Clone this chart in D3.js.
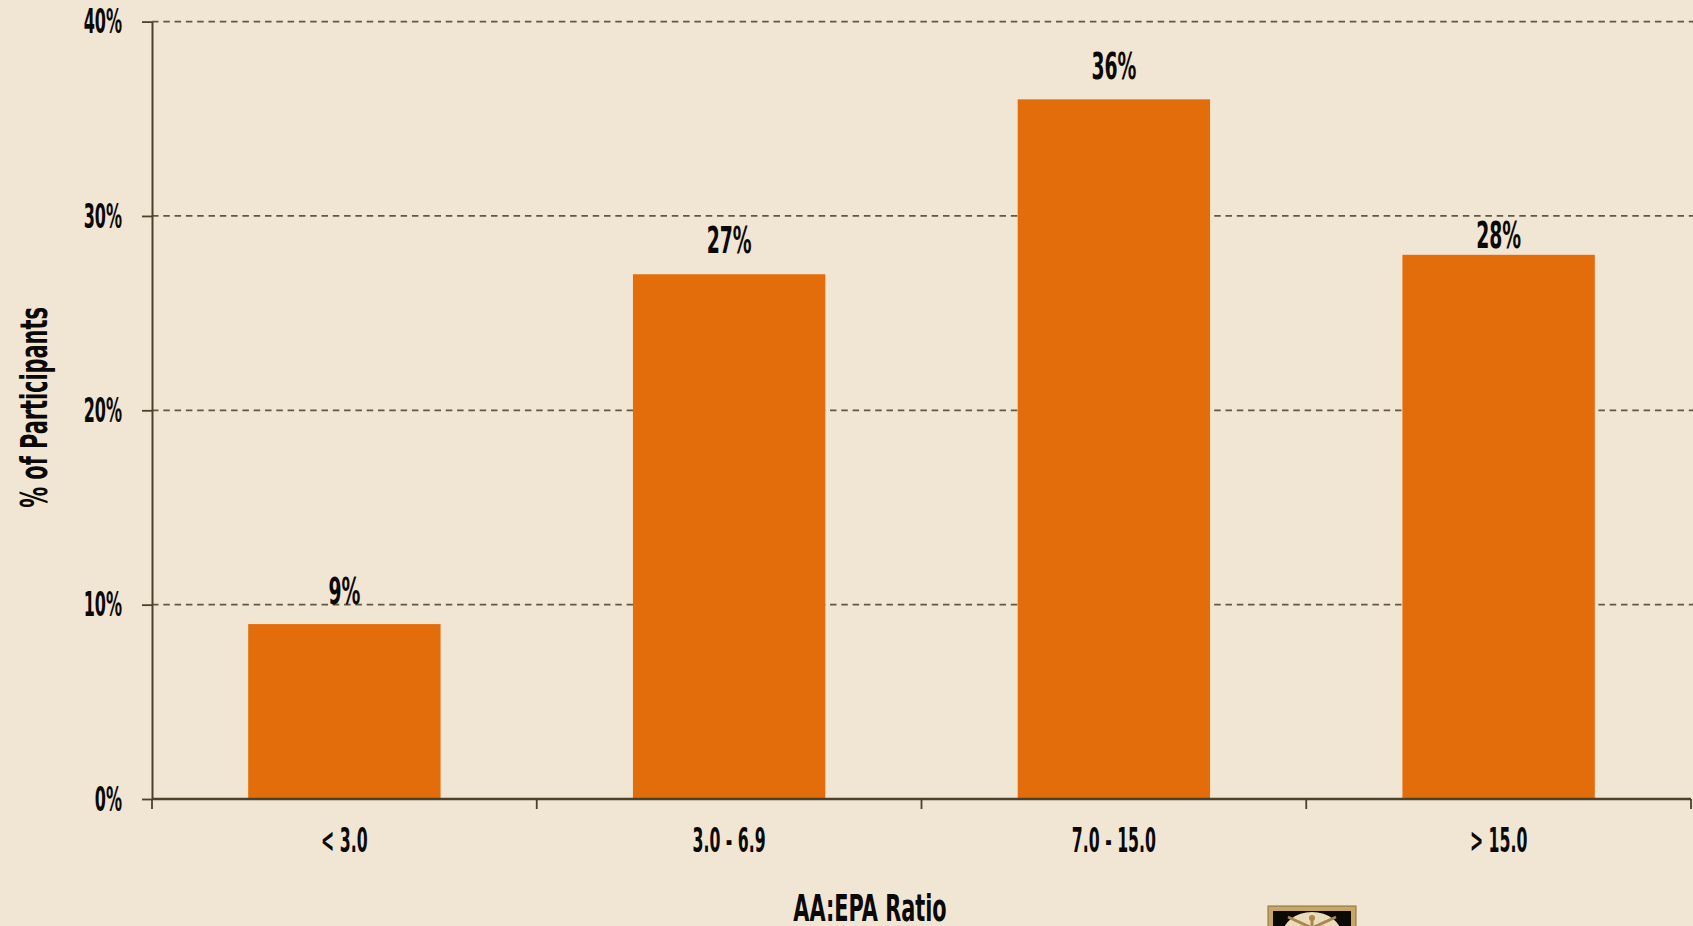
<!DOCTYPE html>
<html>
<head>
<meta charset="utf-8">
<script src="https://cdn.jsdelivr.net/npm/d3@7"></script>
<style>
  html, body { margin: 0; padding: 0; background: #F1E6D4; overflow: hidden; }
  svg { display: block; }
  text { font-family: "Liberation Sans Narrow", "DejaVu Sans Condensed", "Liberation Sans", sans-serif; font-weight: bold; fill: #0b0905; }
</style>
</head>
<body>
<svg id="chart" width="1693" height="926"></svg>
<script>
// ---- data ----
const categories = ["< 3.0", "3.0 - 6.9", "7.0 - 15.0", "> 15.0"];
const values = [9, 27, 36, 28];
const yTicks = [0, 10, 20, 30, 40];
const xTitle = "AA:EPA Ratio";
const yTitle = "% of Participants";

// ---- layout ----
const W = 1693, H = 926;
const plotLeft = 152, plotRight = 1691, plotTop = 21.6, plotBottom = 799;
const labelGap = [20, 21, 20, 7];   // label distance above bar top (styling)
const svg = d3.select("#chart");

svg.append("rect").attr("width", W).attr("height", H).attr("fill", "#F1E6D4");

const x = d3.scaleBand().domain(categories).range([plotLeft, plotRight]).paddingInner(0.5).paddingOuter(0.25);
const y = d3.scaleLinear().domain([0, 40]).range([plotBottom, plotTop]);

const axisColor = "#4b4229";
const gridColor = "#5f5940";

// gridlines
svg.append("g").selectAll("line").data(yTicks.filter(d => d > 0)).join("line")
  .attr("x1", plotLeft).attr("x2", W)
  .attr("y1", d => y(d)).attr("y2", d => y(d))
  .attr("stroke", gridColor).attr("stroke-width", 1.8)
  .attr("stroke-dasharray", "6.5,4.8");

// bars
svg.append("g").selectAll("rect").data(values).join("rect")
  .attr("x", (d, i) => x(categories[i]))
  .attr("width", x.bandwidth())
  .attr("y", d => y(d))
  .attr("height", d => y(0) - y(d))
  .attr("fill", "#E36C0B");

// y axis
const sxTick = 0.54;
const gy = svg.append("g").attr("transform", `translate(${plotLeft},0)`)
  .call(d3.axisLeft(y).tickValues(yTicks).tickSize(10).tickSizeOuter(0).tickFormat(d => d + "%"));
gy.attr("font-family", null).attr("font-size", null);
gy.select(".domain").attr("stroke", axisColor).attr("stroke-width", 2);
gy.selectAll(".tick line").attr("stroke", axisColor).attr("stroke-width", 1.8);
gy.selectAll(".tick text")
  .attr("font-size", 33)
  .attr("x", -30 / sxTick).attr("dy", "0.34em")
  .attr("transform", `scale(${sxTick},1)`)
  .style("fill", "#0b0905");

// x axis line + boundary ticks
const gapHalf = (x.step() - x.bandwidth()) / 2;
const bounds = categories.map(c => x(c) - gapHalf).concat([x(categories[categories.length - 1]) + x.bandwidth() + gapHalf]);
svg.append("line").attr("x1", plotLeft).attr("x2", plotRight).attr("y1", plotBottom).attr("y2", plotBottom)
  .attr("stroke", axisColor).attr("stroke-width", 2.4);
svg.append("g").selectAll("line").data(bounds).join("line")
  .attr("x1", d => d).attr("x2", d => d).attr("y1", plotBottom).attr("y2", plotBottom + 10)
  .attr("stroke", axisColor).attr("stroke-width", 1.8);

// x tick labels
svg.append("g").selectAll("text").data(categories).join("text")
  .attr("transform", d => `translate(${x(d) + x.bandwidth() / 2},${plotBottom + 53}) scale(0.53,1)`)
  .attr("text-anchor", "middle").attr("font-size", 33)
  .text(d => d);

// value labels
svg.append("g").selectAll("text").data(values).join("text")
  .attr("transform", (d, i) => `translate(${x(categories[i]) + x.bandwidth() / 2},${y(d) - labelGap[i]}) scale(0.55,1)`)
  .attr("text-anchor", "middle").attr("font-size", 38)
  .text(d => d + "%");

// axis titles
svg.append("text")
  .attr("transform", `translate(870,921) scale(0.61,1)`)
  .attr("text-anchor", "middle").attr("font-size", 38)
  .text(xTitle);
svg.append("text")
  .attr("transform", `translate(46.5,407.5) rotate(-90) scale(0.61,1)`)
  .attr("text-anchor", "middle").attr("font-size", 38)
  .text(yTitle);

// small logo badge at bottom
const logo = svg.append("g").attr("transform", "translate(1268,906)");
logo.append("rect").attr("width", 88).attr("height", 40).attr("fill", "#c6a766").attr("stroke", "#8a6d3a").attr("stroke-width", 1);
logo.append("rect").attr("x", 5).attr("y", 5).attr("width", 78).attr("height", 40).attr("fill", "#0c0a06");
logo.append("ellipse").attr("cx", 44).attr("cy", 30).attr("rx", 30).attr("ry", 24).attr("fill", "#eadcbc");
logo.append("path").attr("d", "M20,11 L44,22 L68,11 M44,14 L44,30").attr("stroke", "#a9884c").attr("stroke-width", 3).attr("fill", "none");
logo.append("circle").attr("cx", 44).attr("cy", 12).attr("r", 3).attr("fill", "#a9884c");
</script>
</body>
</html>
